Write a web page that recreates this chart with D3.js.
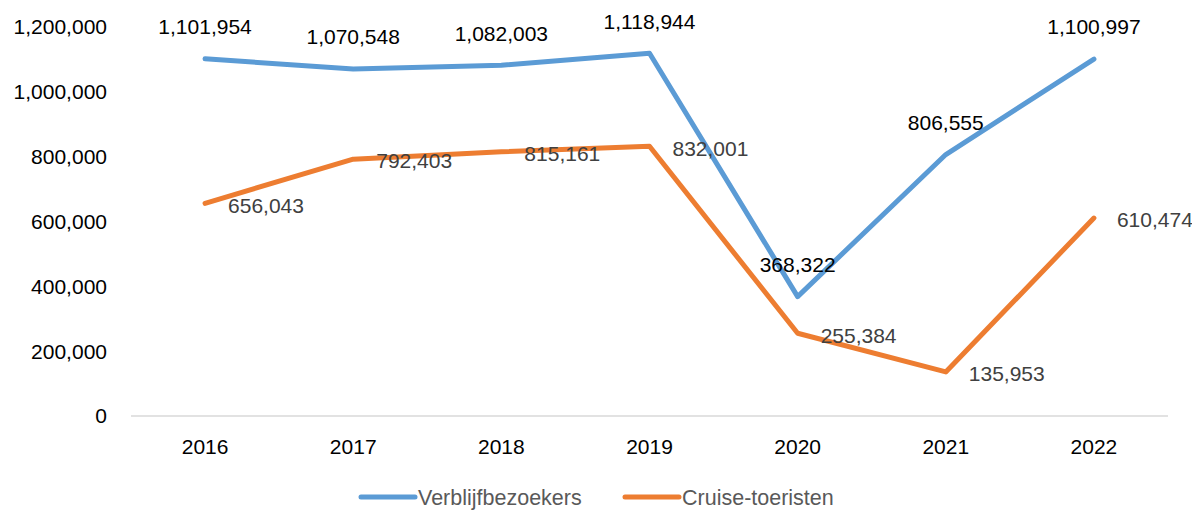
<!DOCTYPE html>
<html><head><meta charset="utf-8">
<script src="https://cdn.jsdelivr.net/npm/d3@7"></script>
<style>body{margin:0;background:#fff}svg{display:block}</style>
</head><body><div id="chart"></div>
<script>
const years = ["2016","2017","2018","2019","2020","2021","2022"];
const verblijf = [1101954,1070548,1082003,1118944,368322,806555,1100997];
const cruise = [656043,792403,815161,832001,255384,135953,610474];
const yTicks = [0,200000,400000,600000,800000,1000000,1200000];
const seriesNames = ["Verblijfbezoekers","Cruise-toeristen"];
const colors = ["#5B9BD5","#ED7D31"];

const W=1192,H=510;
const svg=d3.select("#chart").append("svg").attr("width",W).attr("height",H);
const font="'Liberation Sans', Arial, sans-serif";
const x=d3.scaleBand().domain(years).range([131,1168]);
const y=d3.scaleLinear().domain([0,1200000]).range([416,27]);
const fmt=d3.format(",");

// y tick labels
svg.append("g").selectAll("text").data(yTicks).join("text")
 .attr("x",107).attr("y",d=>y(d)).attr("dy","0.35em").attr("text-anchor","end")
 .attr("font-family",font).attr("font-size",21).attr("fill","#000").text(d=>fmt(d));

// x axis line
svg.append("line").attr("x1",131).attr("x2",1168).attr("y1",y(0)).attr("y2",y(0))
 .attr("stroke","#d9d9d9").attr("stroke-width",1.3);
svg.append("g").selectAll("text").data(years).join("text")
 .attr("x",d=>x(d)+x.bandwidth()/2).attr("y",447).attr("dy","0.35em").attr("text-anchor","middle")
 .attr("font-family",font).attr("font-size",21).attr("fill","#000").text(d=>d);

const line=d3.line().x((d,i)=>x(years[i])+x.bandwidth()/2).y(d=>y(d));
[verblijf,cruise].forEach((s,k)=>{
 svg.append("path").datum(s).attr("d",line).attr("fill","none")
  .attr("stroke",colors[k]).attr("stroke-width",5).attr("stroke-linejoin","round").attr("stroke-linecap","round");
});
// labels
svg.append("g").selectAll("text").data(verblijf).join("text")
 .attr("x",(d,i)=>x(years[i])+x.bandwidth()/2).attr("y",d=>y(d)-32).attr("dy","0.35em")
 .attr("text-anchor","middle").attr("font-family",font).attr("font-size",21).attr("fill","#000").text(d=>fmt(d));
svg.append("g").selectAll("text").data(cruise).join("text")
 .attr("x",(d,i)=>x(years[i])+x.bandwidth()/2+23).attr("y",d=>y(d)+2).attr("dy","0.35em")
 .attr("text-anchor","start").attr("font-family",font).attr("font-size",21).attr("fill","#404040").text(d=>fmt(d));

// legend
const leg=[{n:seriesNames[0],c:colors[0],x:361},{n:seriesNames[1],c:colors[1],x:625}];
const lg=svg.append("g").selectAll("g").data(leg).join("g");
lg.append("line").attr("x1",d=>d.x).attr("x2",d=>d.x+54).attr("y1",497).attr("y2",497)
 .attr("stroke",d=>d.c).attr("stroke-width",5).attr("stroke-linecap","round");
lg.append("text").attr("x",d=>d.x+57).attr("y",497).attr("dy","0.35em")
 .attr("font-family",font).attr("font-size",21.5).attr("fill","#595959").text(d=>d.n);
</script></body></html>
